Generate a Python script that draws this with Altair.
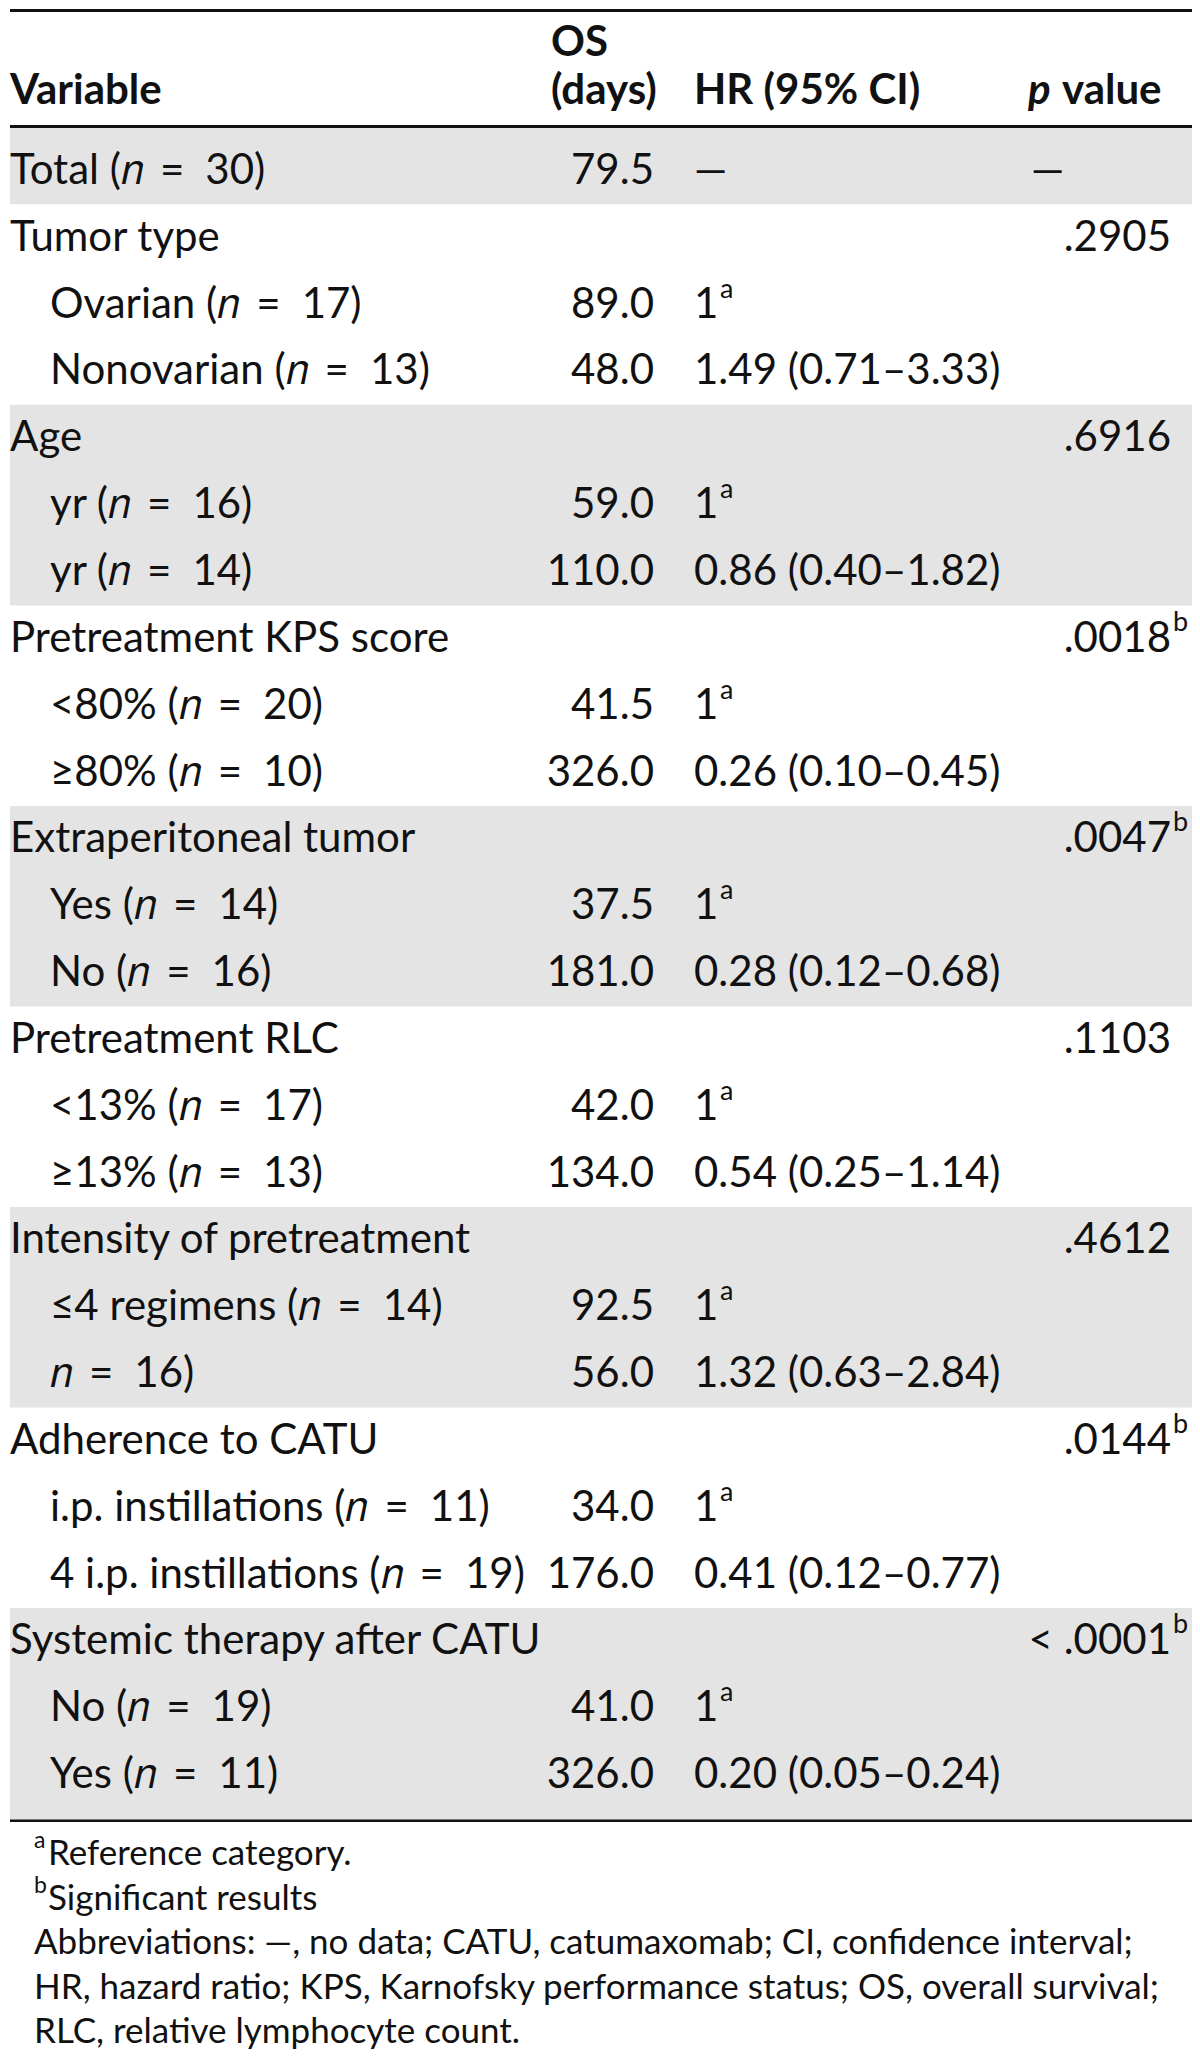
import altair as alt
import pandas as pd

# ---------------- data ----------------
N = "\U0001D45B"  # mathematical italic small n
EQ = " \u2009=\u2002"
labels = [
    f"Total ({N}{EQ}30)", "Tumor type", f"Ovarian ({N}{EQ}17)", f"Nonovarian ({N}{EQ}13)",
    "Age", f"yr ({N}{EQ}16)", f"yr ({N}{EQ}14)",
    "Pretreatment KPS score", f"<80% ({N}{EQ}20)", f"≥80% ({N}{EQ}10)",
    "Extraperitoneal tumor", f"Yes ({N}{EQ}14)", f"No ({N}{EQ}16)",
    "Pretreatment RLC", f"<13% ({N}{EQ}17)", f"≥13% ({N}{EQ}13)",
    "Intensity of pretreatment", f"≤4 regimens ({N}{EQ}14)", f"{N}{EQ}16)",
    "Adherence to CATU", f"i.p. instillations ({N}{EQ}11)", f"4 i.p. instillations ({N}{EQ}19)",
    "Systemic therapy after CATU", f"No ({N}{EQ}19)", f"Yes ({N}{EQ}11)",
]
level = [0, 0, 1, 1, 0, 1, 1, 0, 1, 1, 0, 1, 1, 0, 1, 1, 0, 1, 1, 0, 1, 1, 0, 1, 1]
os_days = ["79.5", "", "89.0", "48.0", "", "59.0", "110.0", "", "41.5", "326.0", "",
           "37.5", "181.0", "", "42.0", "134.0", "", "92.5", "56.0", "", "34.0", "176.0",
           "", "41.0", "326.0"]
hr = ["—", "", "1", "1.49 (0.71–3.33)", "", "1", "0.86 (0.40–1.82)", "", "1",
      "0.26 (0.10–0.45)", "", "1", "0.28 (0.12–0.68)", "", "1", "0.54 (0.25–1.14)", "",
      "1", "1.32 (0.63–2.84)", "", "1", "0.41 (0.12–0.77)", "", "1", "0.20 (0.05–0.24)"]
p_values = ["—", ".2905", "", "", ".6916", "", "", ".0018", "", "", ".0047", "", "",
            ".1103", "", "", ".4612", "", "", ".0144", "", "", "< .0001", "", ""]
p_sig = [False, False, False, False, False, False, False, True, False, False, True, False,
         False, False, False, False, False, False, False, True, False, False, True, False, False]
footnotes = ["Reference category.", "Significant results",
             "Abbreviations: —, no data; CATU, catumaxomab; CI, confidence interval;",
             "HR, hazard ratio; KPS, Karnofsky performance status; OS, overall survival;",
             "RLC, relative lymphocyte count."]
footnote_marks = ["a", "b", "", "", ""]

# ---------------- layout ----------------
W, H = 1184, 2042
FONT = "Lato"
FS = 42
FS_SUP = 27
FS_FOOT = 35
INK = "#111111"
GRAY = "#e4e4e4"

rows = pd.DataFrame({
    "r": list(range(len(labels))),
    "label": labels,
    "level": level,
    "os": os_days,
    "hr": hr,
    "p": p_values,
    "sig": p_sig,
})

yscale = alt.Scale(domain=[-2.4224, 28.1121], reverse=True, nice=False, zero=False)
Y = alt.Y("r:Q", scale=yscale, axis=None)

# group bands (row index ranges)
groups_start = [i for i, l in enumerate(level) if l == 0]
band_rows = []
for k, s in enumerate(groups_start):
    if k % 2 == 0:
        e = groups_start[k + 1] - 1 if k + 1 < len(groups_start) else len(labels) - 1
        band_rows.append({"r": s - 0.5, "r2": e + 0.5})
band_rows[0]["r"] = -0.665
band_rows[-1]["r2"] = 24.683
bands_df = pd.DataFrame(band_rows)

bands = alt.Chart(bands_df).mark_rect(color=GRAY).encode(
    x=alt.value(0), x2=alt.value(W), y=Y, y2="r2:Q"
)

rules_df = pd.DataFrame({"r": [-2.40, -0.665, 24.683], "w": [3, 3, 2.5]})
rules = alt.Chart(rules_df).mark_rule(color=INK).encode(
    x=alt.value(0), x2=alt.value(W), y=Y, size=alt.Size("w:Q", scale=None, legend=None)
)

txt = dict(font=FONT, fontSize=FS, baseline="middle", color=INK)

label_layer = alt.Chart(rows).transform_calculate(
    xpos="datum.level * 40"
).mark_text(align="left", **txt).encode(
    x=alt.X("xpos:Q", scale=None, axis=None), y=Y, text="label:N"
)

os_layer = alt.Chart(rows).transform_filter("datum.os != ''").mark_text(
    align="right", **txt).encode(x=alt.value(644), y=Y, text="os:N")

hr_layer = alt.Chart(rows).transform_filter("datum.hr != ''").mark_text(
    align="left", **txt).encode(x=alt.value(684), y=Y, text="hr:N")

hr_sup = alt.Chart(rows).transform_filter("datum.hr == '1'").transform_calculate(
    s="'a'").mark_text(align="left", font=FONT, fontSize=FS_SUP, baseline="middle",
                       color=INK, dy=-15).encode(x=alt.value(710), y=Y, text="s:N")

p_layer = alt.Chart(rows).transform_filter("datum.p != '' && datum.r > 0").mark_text(
    align="right", **txt).encode(x=alt.value(1161), y=Y, text="p:N")

p_total = alt.Chart(rows).transform_filter("datum.r == 0").mark_text(
    align="left", **txt).encode(x=alt.value(1021), y=Y, text="p:N")

p_sup = alt.Chart(rows).transform_filter("datum.sig").transform_calculate(
    s="'b'").mark_text(align="left", font=FONT, fontSize=FS_SUP, baseline="middle",
                       color=INK, dy=-16).encode(x=alt.value(1163), y=Y, text="s:N")

# header
hdr_df = pd.DataFrame({
    "r": [-1.196, -1.914, -1.196, -1.196],
    "t": ["Variable", "OS", "(days)", "HR (95% CI)"],
    "x": [0, 541, 541, 684],
})
header = alt.Chart(hdr_df).mark_text(align="left", fontWeight="bold", **txt).encode(
    x=alt.X("x:Q", scale=None, axis=None), y=Y, text="t:N")
hdr_p = alt.Chart(pd.DataFrame({"r": [-1.196], "t": ["p"]})).mark_text(
    align="left", fontWeight="bold", fontStyle="italic", **txt).encode(
    x=alt.value(1018), y=Y, text="t:N")
hdr_v = alt.Chart(pd.DataFrame({"r": [-1.196], "t": ["value"]})).mark_text(
    align="left", fontWeight="bold", **txt).encode(
    x=alt.value(1052), y=Y, text="t:N")

# footnotes
foot_df = pd.DataFrame({
    "r": [25.181 + 0.6654 * i for i in range(len(footnotes))],
    "t": footnotes,
    "m": footnote_marks,
})
foot = alt.Chart(foot_df).transform_calculate(
    xpos="datum.m != '' ? 38 : 24"
).mark_text(align="left", font=FONT, fontSize=FS_FOOT, baseline="middle", color=INK).encode(
    x=alt.X("xpos:Q", scale=None, axis=None), y=Y, text="t:N")
foot_sup = alt.Chart(foot_df).transform_filter("datum.m != ''").mark_text(
    align="left", font=FONT, fontSize=23, baseline="middle", color=INK, dy=-13).encode(
    x=alt.value(24), y=Y, text="m:N")

chart = alt.layer(
    bands, rules, label_layer, os_layer, hr_layer, hr_sup, p_layer, p_total, p_sup,
    header, hdr_p, hdr_v, foot, foot_sup
).properties(
    width=W, height=H,
    autosize=alt.AutoSizeParams(type="fit", contains="padding"),
    padding=0,
).configure_view(stroke=None)

chart.save("out.html", embed_options={"renderer": "svg", "actions": False})
